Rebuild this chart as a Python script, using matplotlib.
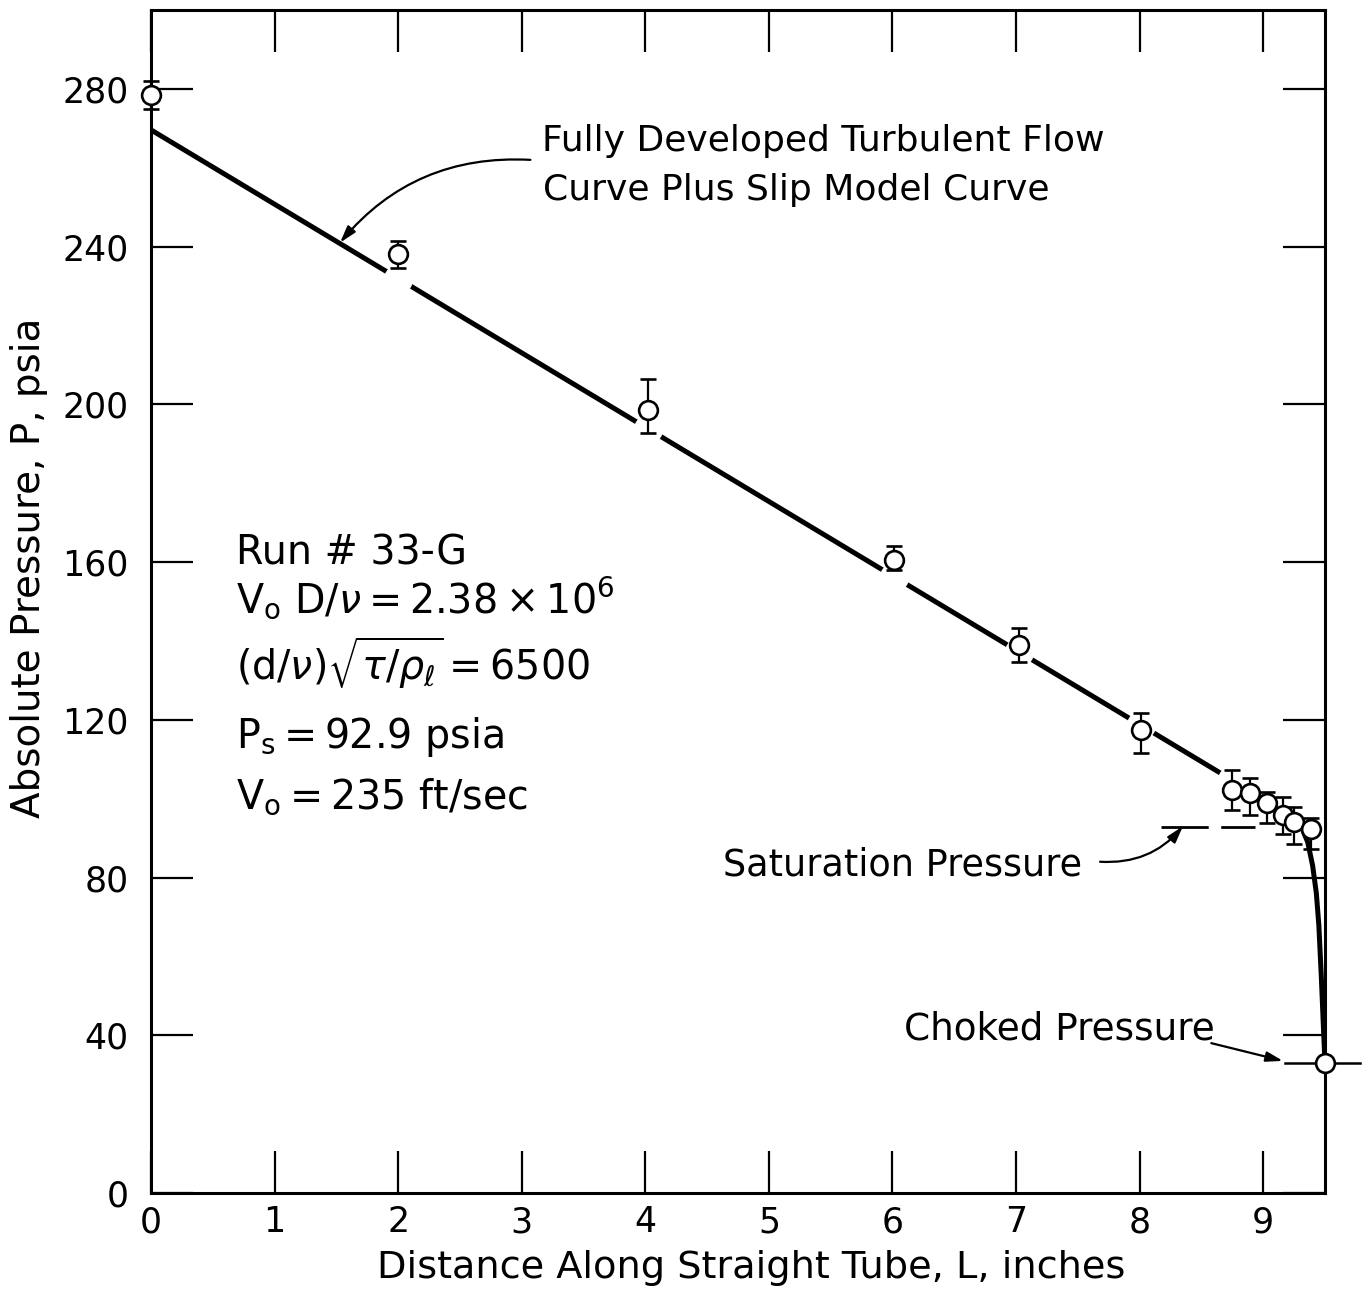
import numpy as np
import matplotlib
matplotlib.use("Agg")
import matplotlib.pyplot as plt

plt.rcParams['font.family'] = ['DejaVu Sans']
plt.rcParams['mathtext.fontset'] = 'dejavusans'

# Measured pressure taps along the tube
tap_L = [0.0, 2.0, 4.02, 6.01, 7.02, 8.01, 8.75, 8.89, 9.03, 9.16, 9.25, 9.39]
tap_P = [278.4, 238.1, 198.6, 160.5, 139.0, 117.4, 102.2, 101.4, 98.9, 95.9, 94.1, 92.3]
tap_P_low = [274.9, 234.6, 192.7, 158.1, 134.7, 111.6, 97.1, 95.9, 93.8, 91.0, 88.5, 87.2]
tap_P_high = [282.0, 241.4, 206.4, 164.1, 143.3, 121.7, 107.3, 105.2, 101.7, 100.4, 97.9, 95.1]

# Choked exit pressure
choke_L = 9.5
choke_P = 32.9

# Saturation pressure
sat_P = 92.9

# Fully developed turbulent flow + slip model curve
model_L = [0.0, 9.2, 9.3, 9.36, 9.40, 9.43, 9.45, 9.47, 9.49, 9.5]
model_P = [269.6, 96.2, 93.5, 89.0, 83.0, 76.0, 68.0, 55.0, 40.0, 33.0]

x_ticks = [0, 1, 2, 3, 4, 5, 6, 7, 8, 9]
y_ticks = [0, 40, 80, 120, 160, 200, 240, 280]

W, H = 1367, 1289
fig = plt.figure(figsize=(W / 100, H / 100), dpi=100)
ax = fig.add_axes([151 / W, 1 - 1193 / H, (1325 - 151) / W, (1193 - 10) / H])
ax.set_xlim(0, 9.5)
ax.set_ylim(0, 300)

# model curve
ax.plot(model_L, model_P, color='black', lw=3.6, solid_capstyle='round', zorder=2)

# saturation level (dashed)
ax.plot([8.17, 8.93], [sat_P, sat_P], color='black', lw=2.0,
        linestyle=(0, (17, 4.5)), zorder=2)

# white gaps in the curve around the taps (the last tap sits on the bend)
tap_L_arr = np.array(tap_L)
gap_L = tap_L_arr[1:-1]
gap_P = np.interp(gap_L, model_L, model_P)
ax.plot(gap_L, gap_P, linestyle='none', marker='o', ms=20,
        mfc='white', mec='white', zorder=2.2)

# data with error bars
P = np.array(tap_P)
yerr = [P - np.array(tap_P_low), np.array(tap_P_high) - P]
ax.errorbar(tap_L, tap_P, yerr=yerr, fmt='o', ms=13.5, mfc='white', mec='black',
            mew=1.9, ecolor='black', elinewidth=1.6, capsize=5.8, capthick=2.6,
            zorder=4, clip_on=False)

# choked pressure marker
ax.plot([9.18, 9.78], [choke_P, choke_P], color='black', lw=1.8, zorder=4, clip_on=False)
ax.plot([choke_L], [choke_P], 'o', ms=13.5, mfc='white', mec='black', mew=1.9,
        zorder=5, clip_on=False)

# axes styling
for s in ax.spines.values():
    s.set_linewidth(2.2)
ax.set_xticks(x_ticks)
ax.set_yticks(y_ticks)
ax.set_xticklabels([str(v) for v in x_ticks])
ax.set_yticklabels([str(v) for v in y_ticks])
ax.tick_params(direction='in', length=30, width=1.6, top=True, right=True,
               labelsize=25, colors='black')
ax.tick_params(axis='x', pad=9)
ax.tick_params(axis='y', pad=16)

ax.set_xlabel('Distance Along Straight Tube, L, inches', fontsize=27.5)
ax.xaxis.set_label_coords((751 - 151) / 1174, (1193 - 1250) / 1183)
ax.set_ylabel('Absolute Pressure, P, psia', fontsize=28)
ax.yaxis.set_label_coords((48 - 151) / 1174, (1193 - 568) / 1183)

# annotations
arrow_kw = dict(color='black', lw=1.6, shrinkA=0, shrinkB=0)
ax.text(3.16, 264.3, 'Fully Developed Turbulent Flow', fontsize=26, va='baseline')
ax.text(3.17, 251.8, 'Curve Plus Slip Model Curve', fontsize=26, va='baseline')
ax.annotate('', xy=(1.53, 241.0), xytext=(3.07, 262.0),
            arrowprops=dict(arrowstyle='-|>,head_length=1.0,head_width=0.3',
                            connectionstyle='arc3,rad=0.25', **arrow_kw))

ax.text(4.63, 80.6, 'Saturation Pressure', fontsize=26.4, va='baseline')
ax.annotate('', xy=(8.35, 93.0), xytext=(7.68, 84.0),
            arrowprops=dict(arrowstyle='-|>,head_length=1.0,head_width=0.3',
                            connectionstyle='arc3,rad=0.25', **arrow_kw))

ax.text(6.09, 38.8, 'Choked Pressure', fontsize=26.9, va='baseline')
ax.annotate('', xy=(9.16, 33.5), xytext=(8.58, 38.0),
            arrowprops=dict(arrowstyle='-|>,head_length=1.0,head_width=0.3',
                            connectionstyle='arc3,rad=0.0', **arrow_kw))

# run conditions
rx = 0.684
rfs = 28.5
ax.text(rx, 159.3, 'Run # 33-G', fontsize=rfs, va='baseline')
ax.text(rx, 147.3, r'$\mathrm{V_o\ D}/\nu = 2.38\times10^{6}$', fontsize=rfs, va='baseline')
ax.text(rx, 130.1, r'$(\mathrm{d}/\nu)\sqrt{\tau/\rho_{\ell}} = 6500$', fontsize=rfs, va='baseline')
ax.text(rx, 112.9, r'$\mathrm{P_s = 92.9\ psia}$', fontsize=rfs, va='baseline')
ax.text(rx, 97.6, r'$\mathrm{V_o = 235\ ft/sec}$', fontsize=rfs, va='baseline')

fig.savefig('out.png', dpi=100)
